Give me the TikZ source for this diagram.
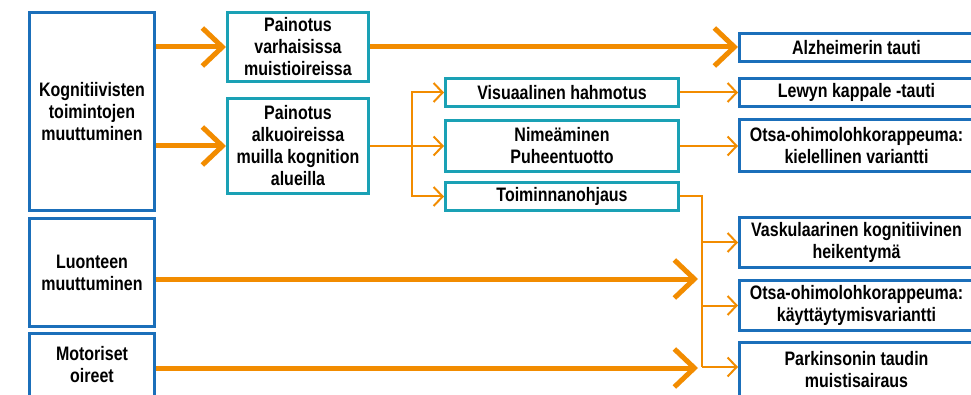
\documentclass[tikz,border=0pt]{standalone}
\usepackage{fontspec}
\setmainfont{Liberation Sans}[FakeStretch=0.82]
\usepackage{tikz}
\usetikzlibrary{arrows.meta}
\definecolor{boxblue}{HTML}{1B6FBA}
\definecolor{boxteal}{HTML}{1AA1B5}
\definecolor{flow}{HTML}{F28C00}
\tikzset{
  box/.style={fill=white, line width=3pt, align=center, inner sep=0pt,
    font=\bfseries\fontsize{19.5}{22}\selectfont},
  sym/.style={box, draw=boxblue, minimum width=125pt},
  sub/.style={box, draw=boxteal},
  dx/.style={box, draw=boxblue, minimum width=234pt},
  bigArrow/.style={draw=flow, line width=5pt, -{Straight Barb[length=20pt,width=38pt]}},
  smallLine/.style={draw=flow, line width=2pt},
  smallArrow/.style={smallLine, -{Straight Barb[length=9pt,width=19pt]}}
}

\begin{document}
\begin{tikzpicture}[x=1pt,y=-1pt]
    \useasboundingbox (0,0) rectangle (971,395);
    \clip (0,0) rectangle (971,395);

    % Oireet
    \node[sym, minimum height=198pt] (kog) at (92,111.5) {Kognitiivisten\\toimintojen\\muuttuminen};
    \node[sym, minimum height=108pt] (luo) at (92,272.5) {Luonteen\\muuttuminen};
    \node[sym, minimum height=64pt] (mot) at (92,365) {Motoriset\\oireet};

    % Painotus
    \node[sub, minimum width=141pt, minimum height=69pt] (pva) at (298,47) {Painotus\\varhaisissa\\muistioireissa};
    \node[sub, minimum width=141pt, minimum height=95pt] (pal) at (298,146) {Painotus\\alkuoireissa\\muilla kognition\\alueilla};

    % Alkuoireet
    \node[sub, minimum width=233pt, minimum height=28pt] (vis) at (562,92.5) {Visuaalinen hahmotus};
    \node[sub, minimum width=233pt, minimum height=51pt] (nim) at (562,146) {Nimeäminen\\Puheentuotto};
    \node[sub, minimum width=233pt, minimum height=28pt] (toi) at (562,196.5) {Toiminnanohjaus};

    % Sairaudet
    \node[dx, minimum height=28pt] (alz) at (856.5,47.5) {Alzheimerin tauti};
    \node[dx, minimum height=28pt] (lew) at (856.5,92.5) {Lewyn kappale -tauti};
    \node[dx, minimum height=52pt] (okv) at (856.5,145.5) {Otsa-ohimolohkorappeuma:\\kielellinen variantti};
    \node[dx, minimum height=50pt] (vas) at (856.5,242.5) {Vaskulaarinen kognitiivinen\\heikentymä};
    \node[dx, minimum height=50pt] (okk) at (856.5,305.5) {Otsa-ohimolohkorappeuma:\\käyttäytymisvariantti};
    \node[dx, minimum height=55pt] (par) at (856.5,369.5) {Parkinsonin taudin\\muistisairaus};

    % Apupisteet
    \coordinate (hajotin) at (412,146);
    \coordinate (kokooja) at (702,367);
    \coordinate (luoEnd) at (698,279);
    \coordinate (motEnd) at (698,368);

    % Paksut nuolet
    \draw[bigArrow] (kog.east |- pva) -- (pva.west);
    \draw[bigArrow] (kog.east |- pal) -- (pal.west);
    \draw[bigArrow] (pva.east) -- (pva.east -| alz.west);
    \draw[bigArrow] (luo.east |- luoEnd) -- (luoEnd);
    \draw[bigArrow] (mot.east |- motEnd) -- (motEnd);

    % Ohuet nuolet
    \draw[smallLine] (pal.east) -- (hajotin);
    \draw[smallArrow] (hajotin) |- (vis.west);
    \draw[smallArrow] (hajotin) -- (nim.west);
    \draw[smallArrow] (hajotin) |- (toi.west);
    \draw[smallArrow] (vis.east) -- (lew.west);
    \draw[smallArrow] (nim.east) -- (nim.east -| okv.west);
    \draw[smallLine] (toi.east) -| (kokooja);
    \draw[smallArrow] (kokooja |- vas) -- (vas.west);
    \draw[smallArrow] (kokooja |- okk) -- (okk.west);
    \draw[smallArrow] (kokooja) -- (kokooja -| par.west);
\end{tikzpicture}
\end{document}
